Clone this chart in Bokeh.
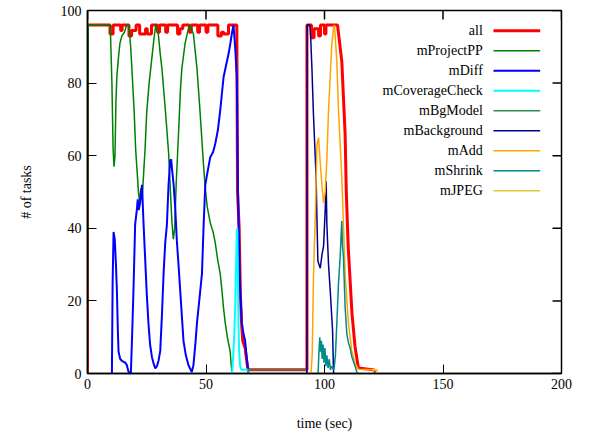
import math
from bokeh.plotting import figure
from bokeh.models import Range1d, FixedTicker
from bokeh.embed import file_html
from bokeh.resources import INLINE
from bokeh.core.properties import value

# ---------------- data (time in sec, number of tasks) ----------------
all_x = [0, 0, 9.5, 9.5, 10.8, 10.8, 14, 14, 14.6, 14.6, 17.5, 17.5, 18.6, 18.6, 20.5, 20.5, 22, 22,
         24.5, 24.5, 25.2, 25.2, 27, 27, 29.5, 29.5, 30.4, 30.4, 33, 33, 33.8, 33.8, 38, 38, 39, 39,
         40.2, 40.2, 43, 43, 43.8, 43.8, 46.5, 46.5, 47.3, 47.3, 50, 50, 50.8, 50.8, 55, 55, 56.5,
         56.5, 57.5, 57.5, 59.5, 59.5, 63, 63.3, 64, 64.5, 65, 65.5, 66.5, 67.5, 67.8,
         92.6, 92.6, 94.5, 94.5, 95.6, 95.6, 97.5, 97.5, 98.3, 98.3, 100, 100, 100.6, 100.6, 105.5,
         107.3, 108.7, 109.2, 110, 111.6, 112.9, 114.3, 121, 121]
all_y = [0, 96, 96, 93.5, 93.5, 96, 96, 94.5, 94.5, 96, 96, 93, 93, 94.5, 94.5, 96, 96, 93.5, 93.5,
         95, 95, 93.5, 93.5, 96, 96, 94, 94, 96, 96, 94, 94, 96, 96, 93.5, 93.5, 95, 95,
         96, 96, 94, 94, 96, 96, 94, 94, 96, 96, 94, 94, 96, 96, 93, 93,
         94, 94, 93.5, 93.5, 96, 96, 50, 40, 22, 14, 9, 7, 2, 1,
         1, 96, 96, 92.5, 92.5, 95, 95, 93, 93, 96, 96, 93.5, 93.5, 96, 96,
         86, 66, 50, 35, 16.5, 7.3, 1.5, 1, 0]

pp_x = [0, 0.3, 9.6, 10.3, 10.8, 11.2, 11.6, 12, 12.4, 13.2, 13.7, 14.5, 15.6, 16.5, 17.5, 18.2, 18.9,
        19.7, 20.3, 21, 21.5, 22, 22.5, 23, 23.5, 24.3, 25, 26, 27, 28, 28.8, 29.8, 30.7, 31.4, 32.8,
        34.2, 35, 35.6, 36.2, 36.8, 37.4, 38.4, 39.2, 39.8, 41.2, 42.6, 43.3, 44.7, 46.2, 47.5, 49,
        49.7, 50.5, 51.8, 53, 53.9, 55, 56, 56.7, 57.4, 58.1, 59, 60.2, 60.7, 61]
pp_y = [0, 96, 96, 80, 62, 57, 60, 75, 82, 88, 91, 93, 94, 96, 96, 90, 82,
        72, 62, 55, 50, 47, 51, 48, 53, 62, 72, 80, 86, 92, 96, 94, 88, 84, 73,
        61, 50, 42, 37, 40, 52, 66, 78, 84, 91, 95, 96, 93.5, 84, 72, 57,
        51, 46, 41.5, 39, 36, 31, 27.5, 23, 18, 14, 10, 6, 2, 0]

diff_x = [10.3, 10.6, 11, 11.5, 12, 12.4, 12.8, 13.1, 13.8, 14.5, 15.9, 16.6, 17.3, 18.3, 18.8, 19.4,
          20.1, 20.8, 21.2, 21.6, 22.2, 23, 23.6, 24.3, 25, 25.7, 26.4, 27.2, 28, 28.6, 29.3, 30,
          30.7, 31.4, 32.1, 32.8, 33.5, 34.2, 34.9, 35.3, 35.6, 36.3, 37, 37.7, 38.4, 39.1, 39.8,
          40.5, 41.5, 42.6, 44, 44.7, 45.5, 46.2, 47.3, 48.3, 49, 49.7, 50.5, 51.8, 53, 53.9, 55,
          56, 56.7, 57.4, 58.5, 59.5, 60.3, 60.9, 61.6, 62.3, 63, 63.5, 63.8, 64.3, 65.1, 65.8,
          66.5, 67.2, 67.9, 68]
diff_y = [0, 25, 39, 37, 30, 23, 12, 6, 4, 3.5, 3, 2.3, 0.5, 0, 10, 23,
          41, 45, 48, 45, 47, 52, 42, 32, 22, 14, 8, 4.5, 2.5, 1.4, 2, 3.6,
          6.3, 16, 27.5, 36, 41, 52, 58.7, 59, 56.8, 52.3, 45.8, 36.6, 30, 23, 16,
          9, 5, 2.3, 0.4, 2.3, 8, 14, 21, 27.5, 41, 52, 55, 59.6, 61, 63.3, 67,
          72.5, 77, 81.6, 85, 88, 91, 93.6, 96, 90, 81.6, 50.4, 40, 25, 13.8, 11,
          9.1, 4, 0.4, 0]

cov_x = [61, 61.5, 62, 62.3, 62.7, 63, 63.2, 63.5, 63.7, 64, 64.4, 65, 67.9, 68]
cov_y = [0, 5, 12, 18, 30, 39.4, 40, 25, 13.8, 6, 2, 1, 1, 0]

bg_x = [67.8, 67.8, 92.6, 92.6]
bg_y = [0, 1, 1, 0]

back_x = [92.6, 92.7, 93.8, 94.2, 94.7, 95.3, 96, 96.5, 96.9, 97.2, 98.2, 99, 99.6, 100.3, 100.7,
          101, 101.7, 102.4, 103.4, 103.8, 104]
back_y = [0, 96, 96, 92, 84, 72, 61, 53, 40, 31, 29, 33, 35, 45, 53,
          41, 30, 23, 12, 0.5, 0]

add_x = [94.3, 94.8, 95.3, 95.7, 96.2, 96.8, 97.5, 98.2, 98.9, 99.6, 100.3, 101, 101.7, 102.4,
         103.1, 103.8, 104.2, 105.2, 105.9, 106.6, 107.3, 108, 108.7, 110.1, 111.5, 112.9, 114.3,
         122, 122]
add_y = [0, 5, 25, 35, 45, 63, 65, 58, 52, 47, 50, 59, 72.5, 81.6,
         90.8, 95, 96, 86, 72.5, 63.3, 54, 41, 27.5, 13.8, 6.3, 2.8, 1.2,
         1, 0]

shr_x = [97.3, 97.6, 98, 98.3, 98.7, 99, 99.4, 99.8, 100.2, 100.6, 101, 101.5, 102, 102.5, 103, 104,
         104.6, 105.2, 105.9, 106.6, 107, 107.3, 107.6, 108, 108.7, 109.4, 110.1, 110.8, 111.5,
         112.9, 113.6, 114]
shr_y = [0, 5, 10, 6, 9, 4, 8, 3, 7, 2, 5, 1.5, 4, 1, 2, 1,
         5, 13.8, 24.8, 32, 38, 42, 35, 32, 18.3, 11, 8.5, 7, 4.7,
         2, 0.5, 0]

jpeg_x = [120.5, 120.5, 122, 122]
jpeg_y = [0, 1, 1, 0]

x_ticks = [0, 50, 100, 150, 200]
y_ticks = [0, 20, 40, 60, 80, 100]

series = [
    ("all", all_x, all_y, "#ff0000", 3.0),
    ("mProjectPP", pp_x, pp_y, "#008000", 1.5),
    ("mDiff", diff_x, diff_y, "#0000ff", 2.0),
    ("mCoverageCheck", cov_x, cov_y, "#00ffff", 2.0),
    ("mBgModel", bg_x, bg_y, "#2e8b57", 1.5),
    ("mBackground", back_x, back_y, "#00008b", 1.5),
    ("mAdd", add_x, add_y, "#ffa500", 1.5),
    ("mShrink", shr_x, shr_y, "#008b8b", 1.5),
    ("mJPEG", jpeg_x, jpeg_y, "#e0c840", 1.5),
]

FONT = "Liberation Serif"

p = figure(width=582, height=437, output_backend="svg", toolbar_location=None,
           x_range=Range1d(0, 200), y_range=Range1d(0, 100))
p.min_border_left = 87
p.min_border_right = 21
p.min_border_top = 10
p.min_border_bottom = 64
p.xgrid.visible = False
p.ygrid.visible = False
p.outline_line_color = "black"
p.outline_line_width = 1.5
p.background_fill_color = "white"
p.border_fill_color = "white"

for ax in (p.xaxis[0], p.yaxis[0]):
    ax.major_tick_in = 9
    ax.major_tick_out = 0
    ax.minor_tick_in = 0
    ax.minor_tick_out = 0
    ax.axis_line_color = "black"
    ax.axis_line_width = 1.5
    ax.major_label_text_font = FONT
    ax.major_label_text_font_size = "14px"
    ax.major_label_text_color = "black"
    ax.axis_label_text_font = FONT
    ax.axis_label_text_font_size = "14px"
    ax.axis_label_text_font_style = "normal"
    ax.axis_label_text_color = "black"

p.xaxis[0].ticker = FixedTicker(ticks=x_ticks)
p.yaxis[0].ticker = FixedTicker(ticks=y_ticks)
p.xaxis[0].axis_label = "time (sec)"
p.yaxis[0].axis_label = "# of tasks"
p.xaxis[0].major_label_standoff = 5
p.yaxis[0].major_label_standoff = 6
p.xaxis[0].axis_label_standoff = 24
p.yaxis[0].axis_label_standoff = 24

# mirrored inward ticks on top and right borders (gnuplot style)
p.ray(x=x_ticks, y=[100] * len(x_ticks), length=9, length_units="screen",
      angle=-math.pi / 2, line_color="black", line_width=1.5)
p.ray(x=[200] * len(y_ticks), y=y_ticks, length=9, length_units="screen",
      angle=math.pi, line_color="black", line_width=1.5)

for name, xs, ys, color, w in series:
    p.line(xs, ys, line_color=color, line_width=w)

# key (gnuplot style: right-aligned label, sample line to its right)
key_text_x = 166.8
key_line_x0 = 171.3
key_line_x1 = 191.0
key_top = 94.4
key_step = 5.51
for i, (name, xs, ys, color, w) in enumerate(series):
    yy = key_top - i * key_step
    p.text(x=[key_text_x], y=[yy], text=[name], text_align="right", text_baseline="middle",
           text_font=value(FONT), text_font_size="14px", text_color="black")
    p.segment(x0=[key_line_x0], y0=[yy], x1=[key_line_x1], y1=[yy], line_color=color, line_width=w)

open("out.html", "w").write(file_html(p, INLINE))
